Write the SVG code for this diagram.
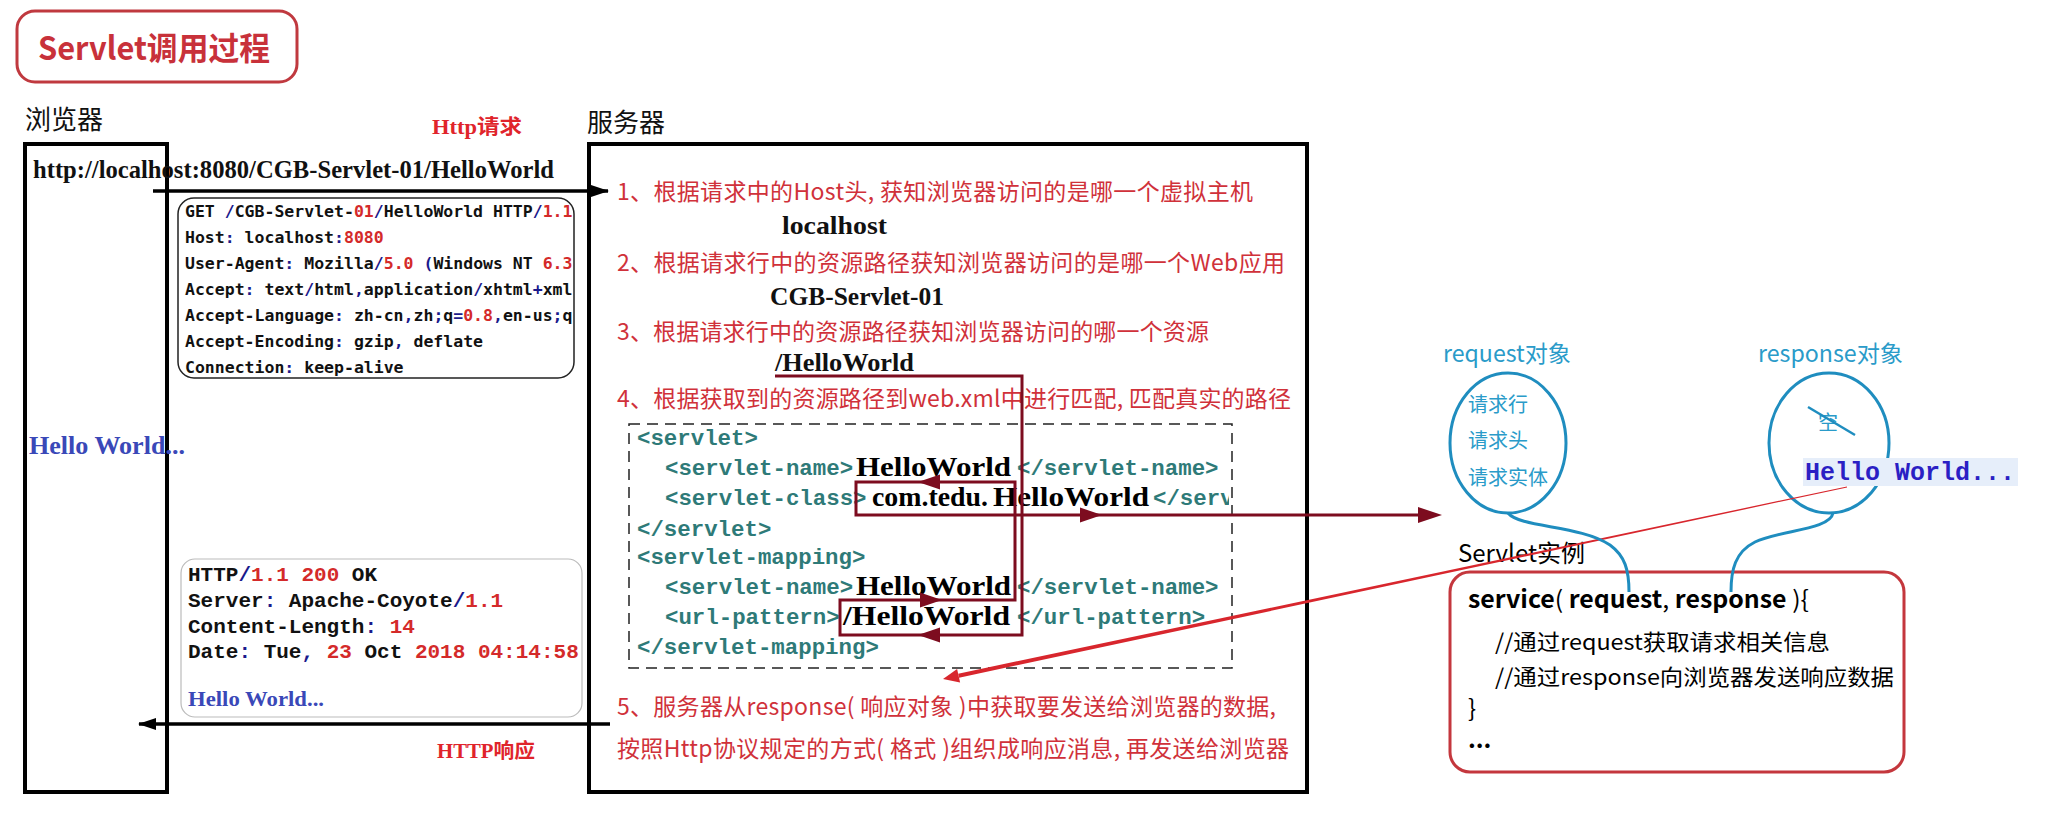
<svg xmlns="http://www.w3.org/2000/svg" width="2048" height="814" viewBox="0 0 2048 814">
<style>
.cjk{font-family:"Noto Sans CJK SC","Noto Sans",sans-serif}
.lbl{font-family:"Noto Sans CJK SC",sans-serif;font-size:26px;fill:#111}
.step{font-family:"Noto Sans CJK SC",sans-serif;font-size:23px;fill:#d0313a}
.val{font-family:"Liberation Serif",serif;font-weight:bold;font-size:25px;fill:#111}
.redlbl{font-family:"Liberation Serif","Noto Sans CJK SC",serif;font-weight:bold;font-size:20px;fill:#e0242b}
.box{fill:none;stroke:#000;stroke-width:4}
.get{font-family:"DejaVu Sans Mono",monospace;font-weight:bold;font-size:16.5px;fill:#111}
.resp{font-family:"Liberation Mono",monospace;font-weight:bold;font-size:21px;fill:#111}
.p{fill:#1a1a8c}
.n{fill:#d42a2a}
.hw{font-family:"Liberation Serif",serif;font-weight:bold;fill:#3a48b8}
.tag{font-family:"Liberation Mono",monospace;font-weight:bold;font-size:22.4px;fill:#2e7a78}
.xv{font-family:"Liberation Serif",serif;font-weight:bold;font-size:28px;fill:#000}
.mar{fill:none;stroke:#7d0c1f;stroke-width:3}
.marh{fill:#7d0c1f}
.teal{fill:none;stroke:#1f8dbf;stroke-width:3}
.tt{font-family:"Noto Sans CJK SC",sans-serif;fill:#2a9bc9}
.svc{font-family:"Noto Sans CJK SC",sans-serif;fill:#000}
</style>
<defs>
<marker id="blk" markerWidth="18" markerHeight="12" refX="17" refY="6" orient="auto" markerUnits="userSpaceOnUse"><path d="M0,0 L18,6 L0,12 z" fill="#000"/></marker>
<clipPath id="xclip"><rect x="629" y="424" width="600" height="244"/></clipPath>
</defs>
<rect width="2048" height="814" fill="#fff"/>

<g id="title">
<rect x="17" y="11" width="280" height="71" rx="18" fill="#fff" stroke="#c0393f" stroke-width="3"/>
<text x="38" y="60" class="cjk" font-size="32" font-weight="bold" fill="#c8313a" textLength="232" lengthAdjust="spacingAndGlyphs">Servlet调用过程</text>
</g>

<g id="browser">
<text x="25" y="129" class="lbl">浏览器</text>
<rect x="25" y="144" width="142" height="648" class="box"/>
<text x="33" y="178" class="val" font-size="23" textLength="521" lengthAdjust="spacingAndGlyphs">http://localhost:8080/CGB-Servlet-01/HelloWorld</text>
<text x="29" y="454" class="hw" font-size="25" textLength="156" lengthAdjust="spacingAndGlyphs">Hello World...</text>
</g>

<g id="server">
<text x="587" y="132" class="lbl">服务器</text>
<rect x="589" y="144" width="718" height="648" class="box"/>
<text x="617" y="200" class="step" textLength="636">1、根据请求中的Host头, 获知浏览器访问的是哪一个虚拟主机</text>
<text x="782" y="234" class="val" textLength="105" lengthAdjust="spacingAndGlyphs">localhost</text>
<text x="617" y="271" class="step" textLength="668">2、根据请求行中的资源路径获知浏览器访问的是哪一个Web应用</text>
<text x="770" y="305" class="val" textLength="174" lengthAdjust="spacingAndGlyphs">CGB-Servlet-01</text>
<text x="617" y="340" class="step" textLength="592">3、根据请求行中的资源路径获知浏览器访问的哪一个资源</text>
<text x="775" y="371" class="val" textLength="139" lengthAdjust="spacingAndGlyphs">/HelloWorld</text>
<text x="617" y="407" class="step" textLength="674">4、根据获取到的资源路径到web.xml中进行匹配, 匹配真实的路径</text>
<text x="617" y="715" class="step" textLength="659">5、服务器从response( 响应对象 )中获取要发送给浏览器的数据,</text>
<text x="617" y="757" class="step" textLength="672">按照Http协议规定的方式( 格式 )组织成响应消息, 再发送给浏览器</text>
</g>

<g id="http-request">
<text x="432" y="134" class="redlbl" textLength="90" lengthAdjust="spacingAndGlyphs">Http请求</text>
<rect x="178" y="198" width="396" height="180" rx="16" fill="#fff" stroke="#222" stroke-width="1.5"/>
<text x="185" y="217" class="get" xml:space="preserve">GET <tspan class="p">/</tspan>CGB-Servlet-<tspan class="n">01</tspan><tspan class="p">/</tspan>HelloWorld HTTP<tspan class="p">/</tspan><tspan class="n">1.1</tspan></text>
<text x="185" y="243" class="get" xml:space="preserve">Host<tspan class="p">:</tspan> localhost<tspan class="p">:</tspan><tspan class="n">8080</tspan></text>
<text x="185" y="269" class="get" xml:space="preserve">User-Agent<tspan class="p">:</tspan> Mozilla<tspan class="p">/</tspan><tspan class="n">5.0</tspan> <tspan class="p">(</tspan>Windows NT <tspan class="n">6.3</tspan></text>
<text x="185" y="295" class="get" xml:space="preserve">Accept<tspan class="p">:</tspan> text<tspan class="p">/</tspan>html<tspan class="p">,</tspan>application<tspan class="p">/</tspan>xhtml<tspan class="p">+</tspan>xml</text>
<text x="185" y="321" class="get" xml:space="preserve">Accept-Language<tspan class="p">:</tspan> zh-cn<tspan class="p">,</tspan>zh<tspan class="p">;</tspan>q<tspan class="p">=</tspan><tspan class="n">0.8</tspan><tspan class="p">,</tspan>en-us<tspan class="p">;</tspan>q</text>
<text x="185" y="347" class="get" xml:space="preserve">Accept-Encoding<tspan class="p">:</tspan> gzip<tspan class="p">,</tspan> deflate</text>
<text x="185" y="373" class="get" xml:space="preserve">Connection<tspan class="p">:</tspan> keep-alive</text>
</g>

<g id="http-response">
<rect x="181" y="559" width="401" height="158" rx="14" fill="#fff" stroke="#bbb" stroke-width="1.2"/>
<text x="188" y="581" class="resp" xml:space="preserve">HTTP<tspan class="p">/</tspan><tspan class="n">1.1 200</tspan> OK</text>
<text x="188" y="607" class="resp" xml:space="preserve">Server<tspan class="p">:</tspan> Apache-Coyote<tspan class="p">/</tspan><tspan class="n">1.1</tspan></text>
<text x="188" y="633" class="resp" xml:space="preserve">Content-Length<tspan class="p">:</tspan> <tspan class="n">14</tspan></text>
<text x="188" y="658" class="resp" xml:space="preserve">Date<tspan class="p">:</tspan> Tue<tspan class="p">,</tspan> <tspan class="n">23</tspan> Oct <tspan class="n">2018 04:14:58</tspan></text>
<text x="188" y="706" class="hw" font-size="22" textLength="136" lengthAdjust="spacingAndGlyphs">Hello World...</text>
<text x="437" y="758" class="redlbl" textLength="98" lengthAdjust="spacingAndGlyphs">HTTP响应</text>
</g>

<g id="web-xml">
<rect x="629" y="424" width="603" height="244" fill="none" stroke="#222" stroke-width="1.5" stroke-dasharray="11 7"/>
<g clip-path="url(#xclip)">
<text x="637" y="445" class="tag">&lt;servlet&gt;</text>
<text x="665" y="475" class="tag">&lt;servlet-name&gt;</text>
<text x="856" y="476" class="xv" textLength="155" lengthAdjust="spacingAndGlyphs">HelloWorld</text>
<text x="1017" y="475" class="tag">&lt;/servlet-name&gt;</text>
<text x="665" y="505" class="tag">&lt;servlet-class&gt;</text>
<text x="872" y="506" class="xv" textLength="116" lengthAdjust="spacingAndGlyphs">com.tedu.</text>
<text x="993" y="506" class="xv" textLength="156" lengthAdjust="spacingAndGlyphs">HelloWorld</text>
<text x="1153" y="505" class="tag">&lt;/servlet-class&gt;</text>
<text x="637" y="536" class="tag">&lt;/servlet&gt;</text>
<text x="637" y="564" class="tag">&lt;servlet-mapping&gt;</text>
<text x="665" y="594" class="tag">&lt;servlet-name&gt;</text>
<text x="856" y="595" class="xv" textLength="155" lengthAdjust="spacingAndGlyphs">HelloWorld</text>
<text x="1017" y="594" class="tag">&lt;/servlet-name&gt;</text>
<text x="665" y="624" class="tag">&lt;url-pattern&gt;</text>
<text x="843" y="625" class="xv" font-size="29" textLength="167" lengthAdjust="spacingAndGlyphs">/HelloWorld</text>
<text x="1017" y="624" class="tag">&lt;/url-pattern&gt;</text>
<text x="637" y="654" class="tag">&lt;/servlet-mapping&gt;</text>
</g>
</g>

<g id="request-object">
<text x="1443" y="362" class="tt" font-size="23" textLength="128" lengthAdjust="spacingAndGlyphs">request对象</text>
<ellipse cx="1508" cy="443" rx="58" ry="70" class="teal"/>
<text x="1468" y="412" class="tt" font-size="20" fill="#3a9cc4">请求行</text>
<text x="1468" y="448" class="tt" font-size="20" fill="#3a9cc4">请求头</text>
<text x="1468" y="485" class="tt" font-size="20" fill="#3a9cc4">请求实体</text>
</g>

<g id="response-object">
<text x="1758" y="362" class="tt" font-size="23" textLength="145" lengthAdjust="spacingAndGlyphs">response对象</text>
<ellipse cx="1829" cy="443" rx="60" ry="70" class="teal"/>
<text x="1818" y="430" class="tt" font-size="20" fill="#3a9cc4">空</text>
<line x1="1808" y1="407" x2="1855" y2="435" stroke="#1f8dbf" stroke-width="2.5"/>
<rect x="1803" y="458" width="215" height="28" fill="#e6eefa"/>
<text x="1805" y="480" font-family="Liberation Mono, monospace" font-weight="bold" font-size="25" fill="#2b1fc4">Hello World...</text>
</g>

<g id="servlet-instance">
<text x="1458" y="562" class="svc" font-size="24">Servlet实例</text>
<rect x="1450" y="572" width="454" height="200" rx="20" fill="none" stroke="#c4373d" stroke-width="3"/>
<text x="1468" y="608" class="svc" font-size="24" textLength="341" lengthAdjust="spacingAndGlyphs"><tspan font-weight="bold">service</tspan>( <tspan font-weight="bold">request</tspan>, <tspan font-weight="bold">response</tspan> ){</text>
<text x="1495" y="650" class="svc" font-size="22" textLength="335" lengthAdjust="spacingAndGlyphs">//通过request获取请求相关信息</text>
<text x="1495" y="685" class="svc" font-size="22" textLength="399" lengthAdjust="spacingAndGlyphs">//通过response向浏览器发送响应数据</text>
<text x="1468" y="717" class="svc" font-size="24">}</text>
<text x="1468" y="748" class="svc" font-size="24" font-weight="bold">...</text>
</g>

<g id="connectors">
<line x1="153" y1="191" x2="608" y2="191" stroke="#000" stroke-width="3.5" marker-end="url(#blk)"/>
<line x1="610" y1="724" x2="139" y2="724" stroke="#000" stroke-width="3.5" marker-end="url(#blk)"/>
<path class="mar" d="M775,376 H1022 V635 H840 V600 H1015 V482 H856 V515 H1422"/>
<polygon class="marh" points="918,482 940,474.5 940,489.5"/>
<polygon class="marh" points="942,600 920,592.5 920,607.5"/>
<polygon class="marh" points="918,635 940,627.5 940,642.5"/>
<polygon class="marh" points="1102,515 1080,507.5 1080,522.5"/>
<polygon class="marh" points="1442,515 1418,507 1418,523"/>
<polygon points="1846.9,486.5 1847.1,487.5 959.0,677.7 958.2,673.7" fill="#d8262d"/>
<polygon points="943,679 957.1,668.9 960.1,682.5" fill="#d8262d"/>
<path class="teal" d="M1508,513 C1520,528 1580,525 1610,545 C1625,556 1629,570 1629,592"/>
<path class="teal" d="M1833,513 C1830,530 1780,530 1755,542 C1735,552 1731,570 1731,592"/>
</g>
</svg>
